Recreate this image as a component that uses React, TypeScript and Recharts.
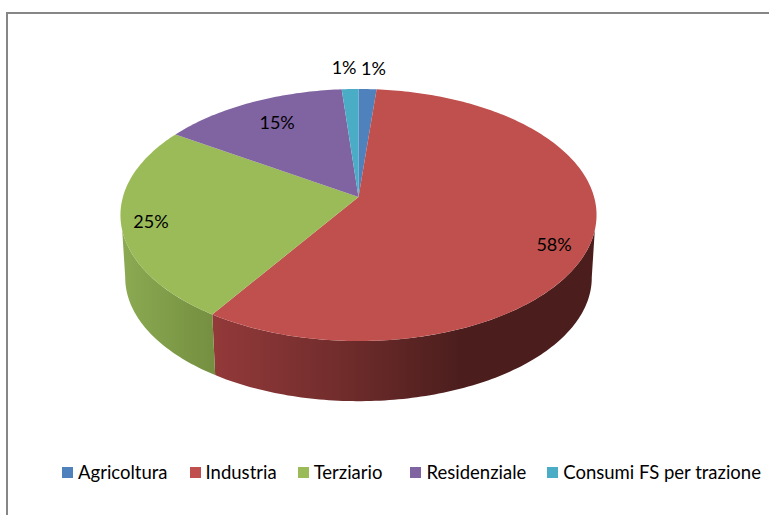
import { PieChart, Pie, Legend } from 'recharts';

const categories = ['Agricoltura', 'Industria', 'Terziario', 'Residenziale', 'Consumi FS per trazione'];
const shares = [1.4, 57.8, 25, 14.5, 1.3];
const colors = ['#4F81BD', '#C0504D', '#9BBB59', '#8064A2', '#4BACC6'];

const tableData = categories.map((name, i) => ({ name, value: shares[i], fill: colors[i] }));

// label nudges from the rim point of each slice, in px
const labelNudge = [[6, -14], [-38, 12], [30, 5], [26, 26], [-6, -15]];
// space after each legend entry, in px
const legendGap = [22, 21, 28, 21, 0];

// perspective of the tilted disc
const TILT = 0.524;
const K = 0.1429;
const DEPTH = 63;
const FLOOR_SCALE = 0.98;

const project = (cx: number, cy: number, r: number, theta: number) => {
  const s = Math.sin(theta);
  const c = Math.cos(theta);
  const w = 1 + K * c;
  return [cx + (r * s) / w, cy - (r * TILT * c) / w];
};

const rad = (deg: number) => (deg * Math.PI) / 180;

const arc = (cx: number, cy: number, r: number, from: number, to: number) => {
  const n = Math.max(2, Math.ceil(Math.abs(to - from)));
  const pts: number[][] = [];
  for (let i = 0; i <= n; i++) pts.push(project(cx, cy, r, rad(from + ((to - from) * i) / n)));
  return pts;
};

const toPath = (pts: number[][]) =>
  pts.map((p, i) => `${i ? 'L' : 'M'}${p[0].toFixed(2)} ${p[1].toFixed(2)}`).join(' ') + ' Z';

const wallFill = (fill: string) => {
  if (fill === colors[1]) return 'url(#wallRed)';
  if (fill === colors[2]) return 'url(#wallGreen)';
  return fill;
};

const Slice3D = (props: any) => {
  const { cx, cy, outerRadius, startAngle, endAngle, fill } = props;
  const from = 90 - startAngle;
  const to = 90 - endAngle;
  const top = arc(cx, cy, outerRadius, from, to);

  // side wall only where the rim faces the viewer
  const a1 = Math.max(from, 105);
  const a2 = Math.min(to, 255);
  const b1 = Math.max(from, 98);
  const b2 = Math.min(to, 262);
  let wall = null;
  if (b2 > b1 && a2 > a1) {
    const upper = arc(cx, cy, outerRadius, a1, a2);
    const lower = arc(cx, cy + DEPTH, outerRadius * FLOOR_SCALE, b2, b1);
    wall = <path d={toPath([...upper, ...lower])} fill={wallFill(fill)} stroke="none" />;
  }
  return (
    <g>
      {wall}
      <path d={toPath([[cx, cy], ...top])} fill={fill} stroke="none" />
    </g>
  );
};

const renderLabel = (props: any) => {
  const { cx, cy, outerRadius, midAngle, percent, index } = props;
  const p = project(cx, cy, outerRadius, rad(90 - midAngle));
  return (
    <text
      x={p[0] + labelNudge[index][0]}
      y={p[1] + labelNudge[index][1]}
      textAnchor="middle"
      fontFamily="Lato"
      fontSize={18}
      fill="#000"
    >
      {Math.round(percent * 100)}%
    </text>
  );
};

const renderLegend = () => (
  <div style={{ display: 'flex', fontFamily: 'Lato', fontSize: 18.5, color: '#000', whiteSpace: 'nowrap' }}>
    {categories.map((name, i) => (
      <div key={name} style={{ display: 'flex', alignItems: 'center', marginRight: legendGap[i] }}>
        <span style={{ width: 11, height: 11, background: colors[i], marginRight: 5 }} />
        <span>{name}</span>
      </div>
    ))}
  </div>
);

export default function App() {
  return (
    <div style={{ position: 'absolute', left: 0, top: 0, width: 769, height: 515, background: '#fff', overflow: 'hidden' }}>
      <div
        style={{
          position: 'absolute',
          left: 6,
          top: 12,
          width: 800,
          height: 600,
          border: '2px solid #868686',
        }}
      />
      <div style={{ position: 'absolute', left: 0, top: 0 }}>
        <PieChart width={769} height={515} margin={{ top: 0, right: 0, bottom: 0, left: 0 }}>
          <defs>
            <linearGradient id="wallRed" gradientUnits="userSpaceOnUse" x1={213} y1={0} x2={460} y2={0}>
              <stop offset="0%" stopColor="#93393A" />
              <stop offset="50%" stopColor="#722D2C" />
              <stop offset="100%" stopColor="#4B1E1D" />
            </linearGradient>
            <linearGradient id="wallGreen" gradientUnits="userSpaceOnUse" x1={122} y1={0} x2={215} y2={0}>
              <stop offset="0%" stopColor="#8BAA52" />
              <stop offset="100%" stopColor="#748F40" />
            </linearGradient>
          </defs>
          <Pie
            data={tableData}
            dataKey="value"
            nameKey="name"
            cx={358.5}
            cy={197}
            outerRadius={235.6}
            startAngle={90}
            endAngle={-270}
            paddingAngle={0}
            stroke="none"
            shape={Slice3D}
            label={renderLabel}
            labelLine={false}
            isAnimationActive={false}
          />
          <Legend content={renderLegend} wrapperStyle={{ left: 62, top: 461, width: 720 }} />
        </PieChart>
      </div>
    </div>
  );
}
